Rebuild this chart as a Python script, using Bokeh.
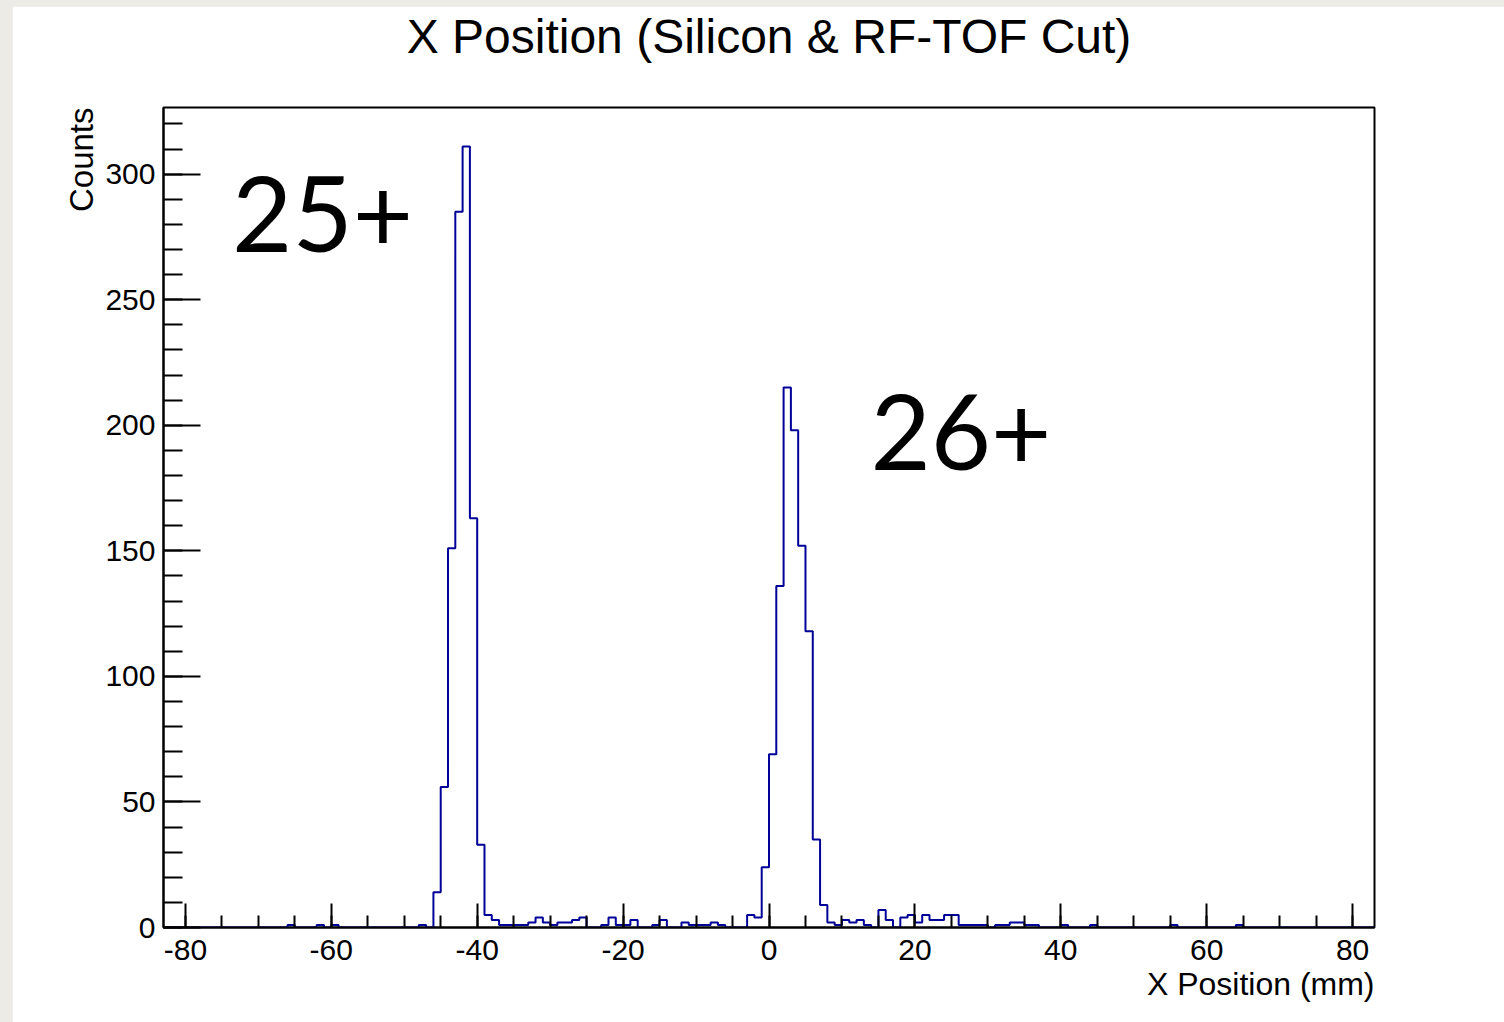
import numpy as np
from bokeh.plotting import figure
from bokeh.models import Range1d, SingleIntervalTicker, Title, ColumnDataSource, PrintfTickFormatter
from bokeh.layouts import column
from bokeh.embed import file_html
from bokeh.resources import INLINE
from bokeh.core.properties import value

# ---------------- data ----------------
title_text = "X Position (Silicon & RF-TOF Cut)"
x_label = "X Position (mm)"
y_label = "Counts"

x_low = -83.0       # lower edge of first bin (mm)
bin_width = 1.0     # mm
# counts per bin, starting at bin [-83, -82)
counts = [
    0, 0, 0, 0, 0, 0, 0, 0, 0, 0,            # -83 .. -74
    0, 0, 0, 0, 0, 0, 0, 1, 0, 0,            # -73 .. -64
    0, 1, 0, 1, 0, 0, 0, 0, 0, 0,            # -63 .. -54
    0, 0, 0, 0, 0, 1, 0, 14, 56, 151,        # -53 .. -44
    285, 311, 163, 33, 5, 3, 1, 1, 1, 1,     # -43 .. -34
    2, 4, 2, 1, 2, 2, 3, 4, 0, 0,            # -33 .. -24
    1, 4, 1, 1, 3, 0, 0, 1, 3, 0,            # -23 .. -14
    0, 2, 1, 1, 1, 2, 1, 0, 0, 0,            # -13 .. -4
    5, 4, 24, 69, 136, 215, 198, 152, 118, 35,  # -3 .. 6
    9, 2, 1, 3, 2, 3, 1, 0, 7, 3,            # 7 .. 16
    0, 4, 5, 2, 5, 3, 3, 5, 5, 1,            # 17 .. 26
    1, 1, 1, 0, 1, 1, 2, 2, 1, 1,            # 27 .. 36
    0, 0, 0, 1, 0, 0, 0, 1, 0, 0,            # 37 .. 46
    0, 0, 0, 0, 0, 0, 0, 0, 1, 0,            # 47 .. 56
    0, 0, 0, 0, 0, 0, 0, 1, 0, 0,            # 57 .. 66
    0, 0, 0, 0, 0, 0, 0, 0, 0, 0,            # 67 .. 76
    0, 0, 0, 0, 0, 0,                        # 77 .. 82
]

peak_labels = ["25+", "26+"]
peak_label_x = [-73.6, 13.9]
peak_label_y = [284.0, 197.5]

# ---------------- figure ----------------
n_bins = len(counts)
x_high = x_low + n_bins * bin_width
edges = x_low + bin_width * np.arange(n_bins + 1)
step_y = counts + [counts[-1]]

FONT = "Liberation Sans"

p = figure(
    width=1492, height=1016,
    output_backend="svg", toolbar_location=None,
    x_range=Range1d(x_low, x_high),
    y_range=Range1d(0, 1.05 * max(counts)),
    min_border_left=151, min_border_right=130,
    min_border_top=101, min_border_bottom=95,
    background_fill_color="white", border_fill_color="white",
)

p.title.text = title_text
p.title.align = "center"
p.title.text_font = FONT
p.title.text_font_size = "48px"
p.title.text_font_style = "normal"
p.title.text_color = "black"
p.title.standoff = 3

# spacer between the title and the frame (pushes title up)
p.add_layout(Title(text=" ", text_font_size="36px", standoff=0), "above")

p.xgrid.visible = False
p.ygrid.visible = False
p.outline_line_color = "black"
p.outline_line_width = 2

# x axis
xa = p.xaxis[0]
xa.ticker = SingleIntervalTicker(interval=20, num_minor_ticks=4)
xa.formatter = PrintfTickFormatter(format="%d")
xa.major_tick_in = 24
xa.major_tick_out = 0
xa.minor_tick_in = 12
xa.minor_tick_out = 0
xa.major_tick_line_width = 2
xa.minor_tick_line_width = 2
xa.axis_line_width = 2
xa.major_label_text_font = FONT
xa.major_label_text_font_size = "30px"
xa.major_label_text_color = "black"
xa.major_label_standoff = 12

# y axis
ya = p.yaxis[0]
ya.ticker = SingleIntervalTicker(interval=50, num_minor_ticks=5)
ya.formatter = PrintfTickFormatter(format="%d")
ya.major_tick_in = 37
ya.major_tick_out = 0
ya.minor_tick_in = 19
ya.minor_tick_out = 0
ya.major_tick_line_width = 2
ya.minor_tick_line_width = 2
ya.axis_line_width = 2
ya.major_label_text_font = FONT
ya.major_label_text_font_size = "30px"
ya.major_label_text_color = "black"
ya.major_label_standoff = 8

# axis titles (right / top aligned as in ROOT)
p.add_layout(Title(text=x_label, align="right", text_font=FONT, text_font_size="32px",
                   text_font_style="normal", text_color="black", standoff=2), "below")
p.add_layout(Title(text=y_label, align="right", text_font=FONT, text_font_size="33px",
                   text_font_style="normal", text_color="black", standoff=6), "left")

# histogram outline
p.step(x=edges, y=step_y, mode="after", line_color="#000099", line_width=2)

# peak annotations
src = ColumnDataSource(dict(x=peak_label_x, y=peak_label_y, t=peak_labels))
p.text(x="x", y="y", text="t", source=src, text_font=value("Lato"),
       text_font_size="104px", text_color="black",
       text_align="left", text_baseline="alphabetic")

p.margin = (6, 0, 0, 12)
layout = column(p, styles={"background-color": "#ecebe6"})

open("out.html", "w").write(file_html(layout, INLINE))
